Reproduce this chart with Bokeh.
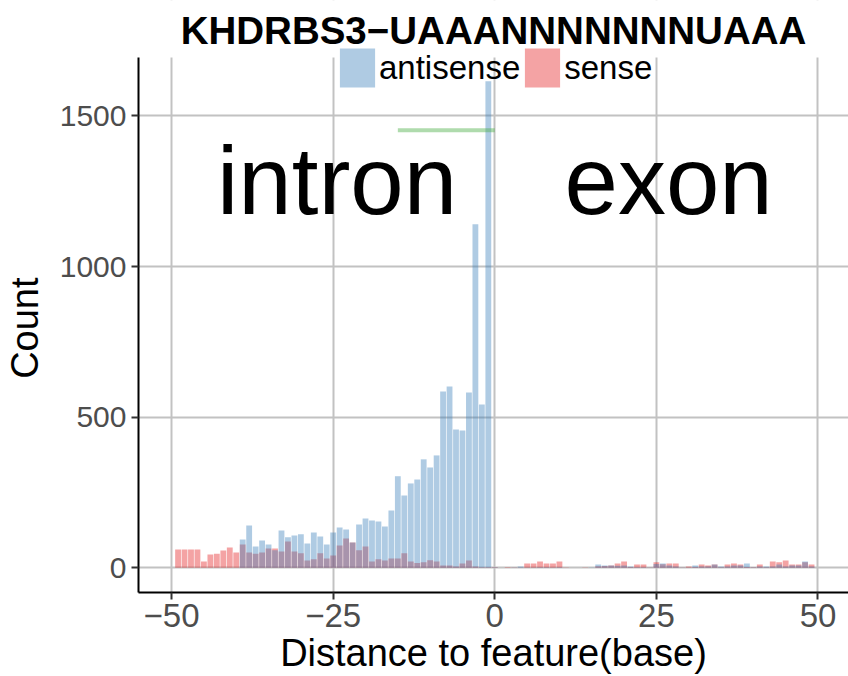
from bokeh.plotting import figure
from bokeh.models import Range1d, Legend, LegendItem, Label, BoxAnnotation
from bokeh.core.properties import value
from bokeh.embed import file_html
from bokeh.resources import INLINE

# ---- data ----
positions = list(range(-49, 50))

antisense = [
    0, 0, 0, 0, 0, 0, 0, 0, 0, 0,
    94, 140, 71, 91, 77, 58, 124, 101, 107, 111,
    81, 117, 104, 77, 117, 134, 127, 84, 144, 164,
    157, 154, 137, 190, 304, 240, 280, 293, 360, 333,
    373, 585, 602, 459, 456, 582, 1140, 542, 1615,
    2,
    0, 0, 1, 4, 1, 1, 2, 2, 1, 2,
    0, 0, 0, 0, 1, 11, 8, 8, 7, 8,
    4, 2, 2, 1, 13, 14, 8, 4, 1, 1,
    8, 4, 4, 11, 4, 4, 8, 8, 14, 2,
    4, 4, 4, 11, 4, 8, 8, 21, 4,
]

sense = [
    61, 61, 61, 61, 21, 44, 47, 57, 67, 51,
    77, 51, 47, 51, 64, 64, 54, 87, 54, 48,
    24, 28, 48, 31, 41, 74, 97, 84, 58, 71,
    21, 28, 24, 31, 31, 48, 21, 16, 18, 25,
    21, 8, 8, 4, 14, 24, 4, 2, 2,
    2,
    0, 2, 1, 1, 14, 14, 21, 14, 14, 21,
    1, 0, 0, 1, 0, 5, 6, 8, 14, 21,
    3, 11, 11, 1, 18, 12, 14, 14, 1, 4,
    3, 11, 8, 11, 2, 11, 14, 11, 3, 2,
    11, 2, 21, 18, 24, 11, 11, 18, 11,
]

x_ticks = [-50, -25, 0, 25, 50]
y_ticks = [0, 500, 1000, 1500]
x_tick_labels = {-50: "\u221250", -25: "\u221225", 0: "0", 25: "25", 50: "50"}

region_labels = ["intron", "exon"]
region_x = [-24.4, 26.9]
region_y = [1286, 1286]

seg_x0, seg_x1, seg_y = -15, 0, 1452

title_text = "KHDRBS3\u2212UAAANNNNNNNUAAA"
y_title = "Count"

FONT = "Liberation Sans"

Y_PANEL_TOP = 1694   # top of the data panel
Y_CANVAS_TOP = 1883  # frame extended to the top of the page

p = figure(width=848, height=676, output_backend="svg", toolbar_location=None,
           x_range=Range1d(-55.12, 54.72), y_range=Range1d(-82, Y_CANVAS_TOP),
           min_border_left=138, min_border_right=0, min_border_top=0,
           min_border_bottom=84)
p.outline_line_color = None
p.background_fill_color = "white"

# grid
p.grid.grid_line_color = "#C2C2C2"
p.grid.grid_line_width = 2

# hide grid above the panel
p.add_layout(BoxAnnotation(bottom=Y_PANEL_TOP, fill_color="white", fill_alpha=1,
                           line_color=None, level="underlay"))

# axes
p.xaxis.ticker = x_ticks
p.yaxis.ticker = y_ticks
p.xaxis.major_label_overrides = x_tick_labels
p.yaxis.bounds = (-82, Y_PANEL_TOP)
for ax in (p.xaxis[0], p.yaxis[0]):
    ax.axis_line_color = "black"
    ax.axis_line_width = 2
    ax.major_tick_line_color = "#333333"
    ax.major_tick_line_width = 2
    ax.major_tick_out = 7
    ax.major_tick_in = 0
    ax.minor_tick_line_color = None
    ax.major_label_text_font = FONT
    ax.major_label_text_color = "#4D4D4D"
    ax.axis_label_text_font = FONT
    ax.axis_label_text_font_size = "38px"
    ax.axis_label_text_font_style = "normal"
    ax.axis_label_text_color = "black"

p.xaxis.major_label_text_font_size = "33px"
p.yaxis.major_label_text_font_size = "30px"
p.xaxis.axis_label = "Distance to feature(base)"
p.xaxis.major_label_standoff = 4
p.xaxis.axis_label_standoff = 2
p.yaxis.major_label_standoff = 5
# trailing no-break spaces centre the visible word on the data panel
p.yaxis.axis_label = y_title + "\u00a0" * 6
p.yaxis.axis_label_standoff = 11

# bars
r_sense = p.vbar(x=positions, top=sense, width=0.9, bottom=0,
                 fill_color="#E41A1C", fill_alpha=0.4, line_color=None)
r_anti = p.vbar(x=positions, top=antisense, width=0.9, bottom=0,
                fill_color="#377EB8", fill_alpha=0.4, line_color=None)

# green segment
p.segment(x0=[seg_x0], x1=[seg_x1], y0=[seg_y], y1=[seg_y],
          line_color="#4DAF4A", line_alpha=0.45, line_width=4)

# region texts
p.text(x=region_x, y=region_y, text=region_labels, text_font=value(FONT),
       text_font_size="96px", text_align="center", text_baseline="alphabetic",
       text_color="black")

# title
p.add_layout(Label(x=-0.2, y=1784, text=title_text, text_font=FONT,
                   text_font_size="38.5px", text_font_style="bold",
                   text_align="center", text_baseline="alphabetic",
                   text_color="black"))

legend = Legend(items=[LegendItem(label="antisense", renderers=[r_anti]),
                       LegendItem(label="sense", renderers=[r_sense])],
                orientation="horizontal", location=(197, 500),
                glyph_width=44, glyph_height=49, label_standoff=0, spacing=0,
                padding=0, margin=0, border_line_color=None,
                background_fill_alpha=0, label_text_font=FONT,
                label_text_font_size="33px", label_text_color="black")
p.add_layout(legend, "center")

open("out.html", "w").write(file_html(p, INLINE))
